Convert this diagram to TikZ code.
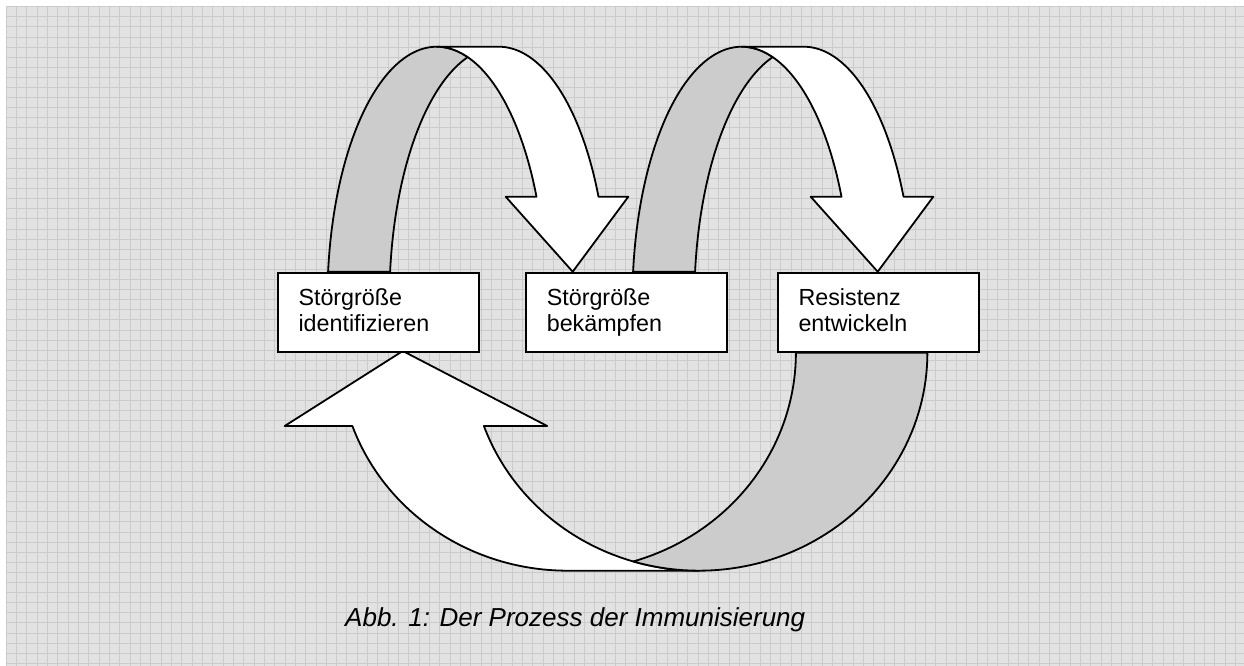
\documentclass[tikz,border=0pt]{standalone}
\usepackage{fontspec}
\setmainfont{Liberation Sans}
\definecolor{bgc}{RGB}{226,226,226}
\definecolor{gridc}{RGB}{203,203,203}
\definecolor{bandgray}{RGB}{204,204,204}
\newcommand{\tstrut}{\rule{0pt}{18pt}}
\begin{document}
\begin{tikzpicture}[x=1pt,y=-1pt,
  outl/.style={draw=black,line width=1.8pt,line join=round},
  backband/.style={outl,fill=bandgray},
  frontband/.style={outl,fill=white},
  stepbox/.style={draw=black,line width=1.8pt,fill=white,minimum width=201pt,minimum height=79pt,inner sep=0pt,anchor=north west},
  boxtext/.style={anchor=north west,inner sep=0pt,align=left,font=\fontsize{23.3}{26.7}\selectfont},
  captext/.style={anchor=base west,inner sep=0pt,font=\fontsize{26}{30}\selectfont\itshape},
  gridline/.style={draw=gridc,line width=0.8pt}]
\useasboundingbox (0,0) rectangle (1244,666);
% background with grid
\fill[bgc] (6,6.7) rectangle (1244,666);
\foreach \k in {0,...,119} \draw[gridline] ({6+10.33*\k},6.7) -- ({6+10.33*\k},666);
\foreach \k in {0,...,65} \draw[gridline] (6,{6.7+10.1*\k}) -- (1244,{6.7+10.1*\k});
% top curved arrows (two ellipses offset by the band width)
\foreach \dx in {0,305}{
\begin{scope}[xshift=\dx pt]
\filldraw[backband]
  plot[domain=186.41:286.5,samples=60,variable=\t] ({436.7+109.3*cos(\t)},{300+253.3*sin(\t)})
  -- plot[domain=253.5:186.41,samples=60,variable=\t] ({498.7+109.3*cos(\t)},{300+253.3*sin(\t)})
  -- cycle;
\filldraw[frontband]
  (436.7,46.7) -- (498.7,46.7)
  -- plot[domain=270:335.93,samples=60,variable=\t] ({498.7+109.3*cos(\t)},{300+253.3*sin(\t)})
  -- (628.3,196.7) -- (572.7,271.7) -- (505.7,196.7)
  -- plot[domain=335.93:270,samples=60,variable=\t] ({436.7+109.3*cos(\t)},{300+253.3*sin(\t)})
  -- cycle;
\end{scope}}
% bottom curved arrow
\filldraw[frontband]
  (284.7,426) -- (402.8,351) -- (547.2,426)
  -- plot[domain=160.35:90,samples=60,variable=\t] ({699+228.4*cos(\t)},{352.7+218*sin(\t)})
  -- (567.5,570.7)
  -- plot[domain=90:160.35,samples=60,variable=\t] ({567.5+228.4*cos(\t)},{352.7+218*sin(\t)})
  -- cycle;
\filldraw[backband]
  plot[domain=0:73.27,samples=60,variable=\t] ({567.5+228.4*cos(\t)},{352.7+218*sin(\t)})
  -- plot[domain=106.73:0,samples=60,variable=\t] ({699+228.4*cos(\t)},{352.7+218*sin(\t)})
  -- cycle;
% boxes
\node[stepbox] (b1) at (276.7,271.7) {};
\node[stepbox] (b2) at (525,271.7) {};
\node[stepbox] (b3) at (776.7,271.7) {};
\node[boxtext,xshift=21.6pt,yshift=-15.3pt] (t1) at (b1.north west) {\tstrut Störgröße\\\tstrut identifizieren};
\node[boxtext,xshift=21.6pt,yshift=-15.3pt] (t2) at (b2.north west) {\tstrut Störgröße\\\tstrut bekämpfen};
\node[boxtext,xshift=21.6pt,yshift=-15.3pt] (t3) at (b3.north west) {\tstrut Resistenz\\\tstrut entwickeln};
% caption
\node[captext] (cap) at (345,626) {Abb. 1: Der Prozess der Immunisierung};
\end{tikzpicture}
\end{document}
